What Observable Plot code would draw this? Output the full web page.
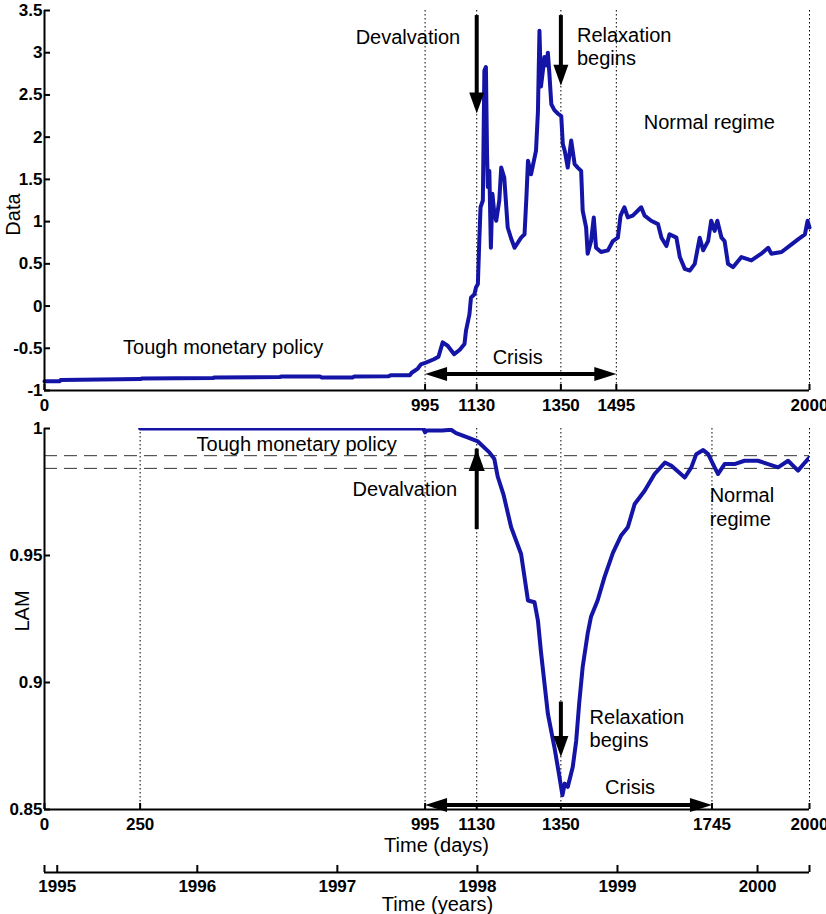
<!DOCTYPE html>
<html><head><meta charset="utf-8">
<script src="https://cdn.jsdelivr.net/npm/d3@7"></script>
<script src="https://cdn.jsdelivr.net/npm/@observablehq/plot@0.6"></script>
<style>
body{margin:0;background:#fff;}
#chart{width:826px;height:914px;display:flex;flex-direction:column;background:#fff;}
#chart svg{display:block;}
</style></head><body><div id="chart"></div>
<script>
// ---------- data ----------
const dataDays = [0,40,42,250,255,440,445,615,620,720,725,805,810,900,905,955,960,976,984,997,1018,1030,1041,1054,1071,1085,1098,1102,1111,1115,1124,1128,1133,1137,1140,1146,1150,1154,1157,1159,1163,1167,1171,1176,1181,1189,1194,1202,1211,1220,1229,1246,1255,1260,1264,1272,1285,1290,1294,1298,1303,1307,1312,1316,1320,1325,1333,1342,1351,1355,1360,1368,1377,1386,1394,1403,1407,1416,1420,1429,1436,1442,1455,1473,1486,1499,1506,1516,1525,1538,1560,1569,1586,1604,1613,1626,1634,1652,1661,1674,1687,1700,1713,1722,1735,1743,1752,1759,1770,1778,1787,1800,1822,1848,1874,1892,1900,1927,1953,1970,1988,1995,2000];
const dataValues = [-0.89,-0.89,-0.877,-0.865,-0.858,-0.852,-0.846,-0.84,-0.834,-0.834,-0.846,-0.846,-0.834,-0.83,-0.82,-0.82,-0.79,-0.74,-0.69,-0.67,-0.63,-0.6,-0.43,-0.47,-0.57,-0.52,-0.45,-0.29,-0.095,0.1,0.14,0.22,0.26,0.81,1.17,1.25,2.79,2.83,1.8,1.41,1.6,0.69,1.33,1.1,1.01,1.25,1.64,1.52,0.93,0.8,0.69,0.81,0.85,1.3,1.72,1.56,1.84,2.3,3.26,2.6,2.79,2.95,2.85,3.0,2.75,2.39,2.32,2.28,2.25,1.92,1.84,1.64,1.96,1.68,1.64,1.6,1.13,0.93,0.62,0.77,1.05,0.69,0.64,0.66,0.77,0.81,1.07,1.17,1.05,1.07,1.17,1.07,1.01,0.97,0.81,0.71,0.85,0.81,0.58,0.44,0.42,0.5,0.81,0.66,0.77,1.01,0.89,1.01,0.81,0.77,0.5,0.46,0.58,0.54,0.62,0.69,0.62,0.64,0.73,0.79,0.85,1.01,0.93];

const lamDays = [250,990,995,1000,1040,1063,1076,1106,1133,1163,1176,1185,1200,1220,1246,1264,1281,1290,1298,1316,1333,1345,1354,1360,1368,1381,1390,1398,1407,1420,1429,1446,1464,1486,1508,1525,1543,1569,1595,1622,1639,1674,1691,1704,1722,1735,1752,1761,1778,1804,1830,1865,1892,1918,1944,1970,1988,2000];
const lamValues = [1.0,1.0,0.9985,0.9992,0.9992,0.9995,0.9982,0.9965,0.9949,0.9906,0.988,0.981,0.974,0.9611,0.9506,0.9323,0.9316,0.9244,0.912,0.8877,0.8746,0.864,0.8556,0.8602,0.8589,0.8667,0.877,0.892,0.9061,0.9192,0.926,0.9323,0.9415,0.951,0.958,0.9611,0.9703,0.9755,0.9821,0.9866,0.9853,0.9807,0.9847,0.9899,0.9915,0.9899,0.9847,0.9821,0.986,0.986,0.9873,0.9873,0.986,0.9847,0.9873,0.9834,0.9866,0.9886];

const topXTicks = [0,995,1130,1350,1495,2000];
const topYTicks = [-1,-0.5,0,0.5,1,1.5,2,2.5,3,3.5];
const bottomXTicks = [0,250,995,1130,1350,1745,2000];
const bottomYTicks = [0.85,0.9,0.95,1];
const yearTicks = [1995,1996,1997,1998,1999,2000];
const yearDomain = [1994.909,2000.371];

const topEvents = [995,1130,1350,1495,2000];
const bottomEvents = [250,995,1130,1350,1745,2000];
const lamThresholds = [0.9893,0.9843];

// arrows (data units)
const topArrowDays = [1130,1350];
const topArrowFrom = [3.44,3.44];
const topArrowTo = [2.28,2.61];
const topCrisis = {from:995, to:1495, level:-0.806};
const bottomDownArrow = {day:1350, from:0.8923, to:0.8707};
const bottomUpArrow = {day:1130, from:0.9657, to:0.9919};
const bottomCrisis = {from:995, to:1745, level:0.8518};

// annotations
const topNotes = [
  {text:"Devalvation", x:950, y:3.30, anchor:"middle"},
  {text:"Relaxation\nbegins", x:1392, y:3.33, anchor:"start"},
  {text:"Normal regime", x:1738, y:2.294, anchor:"middle"},
  {text:"Tough monetary policy", x:467, y:-0.372, anchor:"middle"},
  {text:"Crisis", x:1237, y:-0.49, anchor:"middle"}
];
const bottomNotes = [
  {text:"Tough monetary policy", x:659, y:0.9978, anchor:"middle"},
  {text:"Devalvation", x:942, y:0.98011, anchor:"middle"},
  {text:"Normal\nregime", x:1739, y:0.97748, anchor:"start"},
  {text:"Relaxation\nbegins", x:1425, y:0.89033, anchor:"start"},
  {text:"Crisis", x:1531, y:0.86281, anchor:"middle"}
];

// ---------- styling ----------
const fontFamily = '"Liberation Sans", Arial, Helvetica, sans-serif';
const blue = "#1414a6";
const style = {fontFamily, fontSize:"17px", color:"black", background:"white", overflow:"visible"};
const ML = 44, MR = 17, W = 826, TF = 17, TW = "bold";

const headDown = {draw(c){ c.moveTo(0,0); c.lineTo(-7.5,-21); c.lineTo(7.5,-21); c.closePath(); }};
const headUp = {draw(c){ c.moveTo(0,0); c.lineTo(-8,22); c.lineTo(8,22); c.closePath(); }};
const headLeft = {draw(c){ c.moveTo(0,0); c.lineTo(22,-7); c.lineTo(22,7); c.closePath(); }};
const headRight = {draw(c){ c.moveTo(0,0); c.lineTo(-22,-7); c.lineTo(-22,7); c.closePath(); }};

const topSeries = dataDays.map((d,i)=>({day:d, value:dataValues[i]}));
const lamSeries = lamDays.map((d,i)=>({day:d, value:lamValues[i]}));
const topArrows = topArrowDays.map((d,i)=>({day:d, from:topArrowFrom[i], to:topArrowTo[i]}));

function noteMarks(notes){
  return notes.map(n => Plot.text([n], {x:"x", y:"y", text:"text", textAnchor:n.anchor, lineAnchor:"top", lineHeight:1.18, fontSize:20, fill:"black"}));
}
function hArrow(a){
  return [
    Plot.ruleY([a], {x1:"from", x2:"to", y:"level", stroke:"black", strokeWidth:4, insetLeft:14, insetRight:14}),
    Plot.dot([a], {x:"from", y:"level", symbol:headLeft, fill:"black", stroke:"none"}),
    Plot.dot([a], {x:"to", y:"level", symbol:headRight, fill:"black", stroke:"none"})
  ];
}
function axisLabel(text, opts){
  return Plot.text([text], {textAnchor:"middle", lineAnchor:"middle", fontSize:20, fill:"black", ...opts});
}

// ---------- top panel ----------
const topPlot = Plot.plot({
  width:W, height:415, marginTop:10, marginBottom:25, marginLeft:ML, marginRight:MR,
  style,
  x:{domain:[0,2000]},
  y:{domain:[-1,3.5]},
  marks:[
    Plot.ruleX(topEvents, {stroke:"black", strokeWidth:1, strokeDasharray:"1.5,2.5"}),
    Plot.line(topSeries, {x:"day", y:"value", stroke:blue, strokeWidth:4, strokeLinejoin:"round"}),
    Plot.ruleX(topArrows, {x:"day", y1:"from", y2:"to", stroke:"black", strokeWidth:4, insetBottom:14}),
    Plot.dot(topArrows, {x:"day", y:"to", symbol:headDown, fill:"black", stroke:"none"}),
    ...hArrow(topCrisis),
    ...noteMarks(topNotes),
    Plot.ruleX([0], {stroke:"black", strokeWidth:2}),
    Plot.ruleY([-1], {stroke:"black", strokeWidth:2}),
    Plot.axisY({ticks:topYTicks, tickSize:6, dx:6, tickFormat:()=>"", label:null, strokeWidth:2}),
    Plot.axisY({ticks:topYTicks, tickSize:0, tickPadding:2, tickFormat:d=>String(d), label:null, fontSize:TF, fontWeight:TW}),
    Plot.axisX({ticks:topXTicks, tickSize:6, dy:-6, tickFormat:()=>"", label:null, strokeWidth:2}),
    Plot.axisX({ticks:topXTicks, tickSize:0, tickPadding:8, tickFormat:d=>String(d), label:null, fontSize:TF, fontWeight:TW}),
    axisLabel("Data", {frameAnchor:"left", rotate:-90, dx:-31, dy:14})
  ]
});

// ---------- bottom panel ----------
const bottomPlot = Plot.plot({
  width:W, height:445, marginTop:13, marginBottom:51, marginLeft:ML, marginRight:MR,
  style,
  x:{domain:[0,2000]},
  y:{domain:[0.85,1]},
  marks:[
    Plot.ruleX(bottomEvents, {stroke:"black", strokeWidth:1, strokeDasharray:"1.5,2.5"}),
    Plot.ruleY(lamThresholds, {stroke:"#333", strokeWidth:1, strokeDasharray:"13,7"}),
    Plot.line(lamSeries, {x:"day", y:"value", stroke:blue, strokeWidth:4, strokeLinejoin:"round", clip:true}),
    Plot.ruleX([bottomUpArrow], {x:"day", y1:"from", y2:"to", stroke:"black", strokeWidth:4, insetTop:14}),
    Plot.dot([bottomUpArrow], {x:"day", y:"to", symbol:headUp, fill:"black", stroke:"none"}),
    Plot.ruleX([bottomDownArrow], {x:"day", y1:"from", y2:"to", stroke:"black", strokeWidth:4, insetBottom:14}),
    Plot.dot([bottomDownArrow], {x:"day", y:"to", symbol:headDown, fill:"black", stroke:"none"}),
    ...hArrow(bottomCrisis),
    ...noteMarks(bottomNotes),
    Plot.ruleX([0], {stroke:"black", strokeWidth:2}),
    Plot.ruleY([0.85], {stroke:"black", strokeWidth:2}),
    Plot.axisY({ticks:bottomYTicks, tickSize:6, dx:6, tickFormat:()=>"", label:null, strokeWidth:2}),
    Plot.axisY({ticks:bottomYTicks, tickSize:0, tickPadding:2, tickFormat:d=>String(d), label:null, fontSize:TF, fontWeight:TW}),
    Plot.axisX({ticks:bottomXTicks, tickSize:6, dy:-6, tickFormat:()=>"", label:null, strokeWidth:2}),
    Plot.axisX({ticks:bottomXTicks, tickSize:0, tickPadding:8, tickFormat:d=>String(d), label:null, fontSize:TF, fontWeight:TW}),
    axisLabel("LAM", {frameAnchor:"left", rotate:-90, dx:-22, dy:-8}),
    axisLabel("Time (days)", {frameAnchor:"bottom", dx:9.5, dy:36})
  ]
});

// ---------- years axis ----------
const yearPlot = Plot.plot({
  width:W, height:54, marginTop:5, marginBottom:42, marginLeft:ML, marginRight:MR,
  style,
  x:{domain:yearDomain},
  y:{domain:[0,1], axis:null},
  marks:[
    Plot.tickX([...yearTicks, ...yearDomain], {x:d=>d, stroke:"black", strokeWidth:2}),
    Plot.ruleY([0], {stroke:"black", strokeWidth:2}),
    Plot.axisX({ticks:yearTicks, tickSize:0, tickPadding:7, tickFormat:d=>String(d), label:null, fontSize:TF, fontWeight:TW}),
    axisLabel("Time (years)", {frameAnchor:"bottom", dx:10.5, dy:32})
  ]
});

const chart = document.getElementById("chart");
chart.append(topPlot, bottomPlot, yearPlot);
</script>
</body></html>
